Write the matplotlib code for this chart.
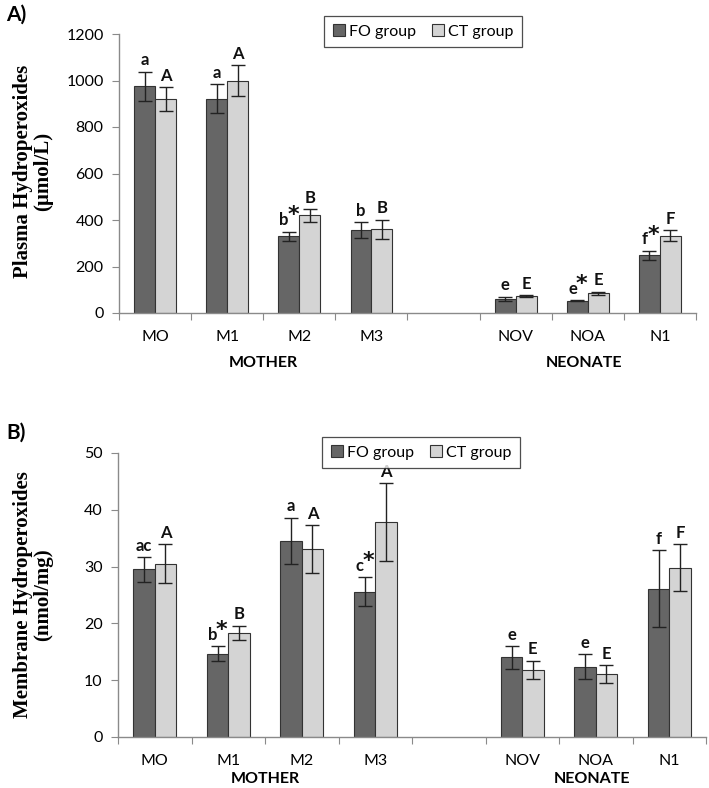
import matplotlib
matplotlib.use("Agg")
import matplotlib.pyplot as plt
import numpy as np

# categories (slot 4 is an empty gap between mother and neonate)
positions = [0, 1, 2, 3, 5, 6, 7]
cat_used = ["MO", "M1", "M2", "M3", "NOV", "NOA", "N1"]

# panel A: plasma hydroperoxides (umol/L)
a_fo = [975, 922, 330, 357, 60, 53, 248]
a_fo_err = [63, 62, 20, 33, 10, 3, 20]
a_ct = [920, 1000, 420, 360, 72, 85, 333]
a_ct_err = [52, 67, 27, 42, 5, 6, 22]
a_fo_lab = ["a", "a", "b", "b", "e", "e", "f"]
a_fo_star = [False, False, True, False, False, True, True]
a_ct_lab = ["A", "A", "B", "B", "E", "E", "F"]

# panel B: membrane hydroperoxides (nmol/mg)
b_fo = [29.5, 14.7, 34.5, 25.6, 14.0, 12.4, 26.1]
b_fo_err = [2.2, 1.3, 4.1, 2.5, 2.0, 2.2, 6.8]
b_ct = [30.5, 18.3, 33.1, 37.8, 11.8, 11.05, 29.8]
b_ct_err = [3.4, 1.3, 4.2, 6.9, 1.65, 1.55, 4.1]
b_fo_lab = ["ac", "b", "a", "c", "e", "e", "f"]
b_fo_star = [False, True, False, True, False, False, False]
b_ct_lab = ["A", "B", "A", "A", "E", "E", "F"]

FO_COL = "#666666"
CT_COL = "#d4d4d4"
EDGE = "#333333"
AXC = "#8a8a8a"
SANS = "Lato"

W, H = 709, 788
fig = plt.figure(figsize=(W / 100, H / 100), dpi=100)


def panel(rect, fo, fo_err, ct, ct_err, fo_lab, fo_star, ct_lab, ymax, ystep,
          ylabel, lab_y, tag, tag_y, leg_c, grp_off):
    ax = fig.add_axes(rect)
    x = np.array(positions, dtype=float)
    bw = 0.29
    err_kw = dict(ecolor="#222222", elinewidth=1.0, capsize=5, capthick=1.0)
    ax.bar(x - bw / 2, fo, bw, yerr=fo_err, color=FO_COL, edgecolor=EDGE, linewidth=0.8,
           error_kw=err_kw, label="FO group", zorder=2)
    ax.bar(x + bw / 2, ct, bw, yerr=ct_err, color=CT_COL, edgecolor=EDGE, linewidth=0.8,
           error_kw=err_kw, label="CT group", zorder=2)

    ax.set_xlim(-0.5, 7.5)
    ax.set_ylim(0, ymax)
    ax.set_yticks(np.arange(0, ymax + ystep / 2, ystep))
    ax.tick_params(axis="y", direction="out", length=5, color=AXC, labelsize=11.5, pad=6)
    for t in ax.get_yticklabels():
        t.set_family(SANS)

    ax.set_xticks(np.arange(-0.5, 8.0, 1.0))
    ax.set_xticklabels([])
    ax.tick_params(axis="x", which="major", direction="out", length=5, color=AXC)
    ax.set_xticks(positions, minor=True)
    ax.set_xticklabels(cat_used, minor=True, fontsize=11.5, family=SANS)
    ax.tick_params(axis="x", which="minor", length=0, pad=12)

    for s in ["top", "right"]:
        ax.spines[s].set_visible(False)
    for s in ["left", "bottom"]:
        ax.spines[s].set_color(AXC)
        ax.spines[s].set_linewidth(1.0)

    # significance letters
    off = ymax * 0.012
    for xi, v, e, lab, st in zip(x, fo, fo_err, fo_lab, fo_star):
        dx = -3.5 if st else 0
        ax.annotate(lab, xy=(xi - bw / 2, v + e + off), xytext=(dx, 0),
                    textcoords="offset points", ha="center", va="bottom",
                    fontsize=12, fontweight="bold", family=SANS, color="#111111")
        if st:
            ax.annotate("*", xy=(xi - bw / 2, v + e + off), xytext=(3, 2),
                        textcoords="offset points", ha="center", va="bottom",
                        fontsize=16, fontweight="bold", family="DejaVu Sans", color="#111111")
    for xi, v, e, lab in zip(x, ct, ct_err, ct_lab):
        ax.text(xi + bw / 2, v + e + off, lab, ha="center", va="bottom",
                fontsize=12, fontweight="bold", family=SANS, color="#111111")

    ax.annotate("MOTHER", xy=(1.5, 0), xycoords=("data", "axes fraction"),
                xytext=(0, -grp_off), textcoords="offset points", ha="center", va="center",
                fontsize=11.5, fontweight="bold", family=SANS)
    ax.annotate("NEONATE", xy=(5.95, 0), xycoords=("data", "axes fraction"),
                xytext=(0, -grp_off), textcoords="offset points", ha="center", va="center",
                fontsize=11.5, fontweight="bold", family=SANS)

    fig.text(33 / W, 1 - lab_y / H, ylabel, rotation=90, ha="center", va="center",
             fontsize=15, fontweight="bold", family="Liberation Serif", linespacing=1.0,
             multialignment="center")
    fig.text(6 / W, 1 - tag_y / H, tag, ha="left", va="center", fontsize=15,
             fontweight="bold", family=SANS)

    leg = ax.legend(loc="center", bbox_to_anchor=(leg_c[0] / W, 1 - leg_c[1] / H),
                    bbox_transform=fig.transFigure, ncol=2, frameon=True, fancybox=False,
                    handlelength=0.75, handleheight=0.75, handletextpad=0.25,
                    columnspacing=1.0, borderpad=0.55, prop={"family": SANS, "size": 11.5})
    leg.get_frame().set_edgecolor("#222222")
    leg.get_frame().set_linewidth(0.9)
    return ax


panel([119 / W, 1 - 313 / H, (696 - 119) / W, 279 / H],
      a_fo, a_fo_err, a_ct, a_ct_err, a_fo_lab, a_fo_star, a_ct_lab,
      1200, 200, "Plasma Hydroperoxides\n(\u00b5mol/L)", 171, "A)", 15, (423, 31.5), 36)

panel([118 / W, 1 - 737 / H, (706 - 118) / W, 284 / H],
      b_fo, b_fo_err, b_ct, b_ct_err, b_fo_lab, b_fo_star, b_ct_lab,
      50, 10, "Membrane Hydroperoxides\n(nmol/mg)", 595, "B)", 433, (421, 452.5), 30)

fig.savefig("out.png", dpi=100)
